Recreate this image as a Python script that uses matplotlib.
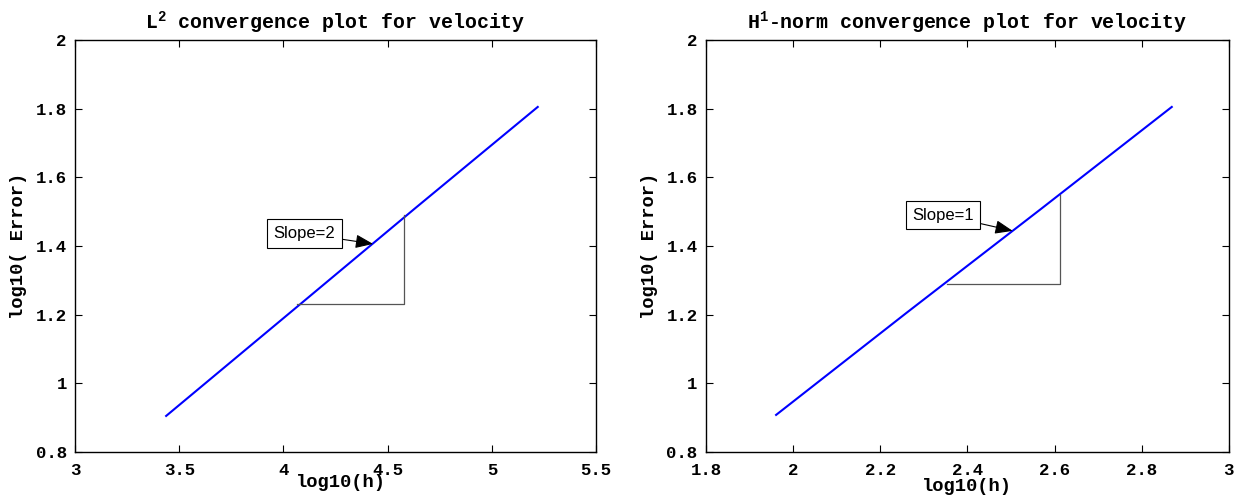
import matplotlib
matplotlib.use("Agg")
import matplotlib.pyplot as plt

# data
x_l2 = [3.437, 4.03, 4.63, 5.22]
y_l2 = [0.905, 1.205, 1.509, 1.805]
x_h1 = [1.961, 2.26, 2.57, 2.869]
y_h1 = [0.908, 1.205, 1.509, 1.805]

tri_l2_x = [4.065, 4.579, 4.579]
tri_l2_y = [1.231, 1.231, 1.490]
tri_h1_x = [2.353, 2.612, 2.612]
tri_h1_y = [1.289, 1.289, 1.549]

yticks = [0.8, 1, 1.2, 1.4, 1.6, 1.8, 2]
ytick_labels = ['0.8', '1', '1.2', '1.4', '1.6', '1.8', '2']
xticks_l2 = [3, 3.5, 4, 4.5, 5, 5.5]
xtick_labels_l2 = ['3', '3.5', '4', '4.5', '5', '5.5']
xticks_h1 = [1.8, 2, 2.2, 2.4, 2.6, 2.8, 3]
xtick_labels_h1 = ['1.8', '2', '2.2', '2.4', '2.6', '2.8', '3']

plt.rcParams['font.family'] = ['Liberation Mono', 'DejaVu Sans']
plt.rcParams['font.weight'] = 'bold'
plt.rcParams['mathtext.default'] = 'regular'

fig = plt.figure(figsize=(12.51, 4.98), dpi=100)
ax1 = fig.add_axes([0.06, 0.0924, 0.4165, 0.8273])
ax2 = fig.add_axes([0.5643, 0.0924, 0.418, 0.8273])


def style(ax, xticks, xlabels, xlim, ylab_x):
    ax.set_xlim(xlim)
    ax.set_ylim(0.8, 2)
    ax.set_xticks(xticks)
    ax.set_xticklabels(xlabels, fontsize=12.5, fontweight='bold')
    ax.set_yticks(yticks)
    ax.set_yticklabels(ytick_labels, fontsize=12.5, fontweight='bold')
    ax.tick_params(direction='in', length=5, width=0.8, top=True, right=True)
    ax.tick_params(axis='y', pad=6)
    ax.tick_params(axis='x', pad=8)
    for s in ax.spines.values():
        s.set_linewidth(1.0)
    ax.set_ylabel('log10( Error)', fontsize=13.5, fontweight='bold')
    ax.yaxis.set_label_coords(ylab_x, 0.5)


style(ax1, xticks_l2, xtick_labels_l2, (3, 5.5), -0.093)
style(ax2, xticks_h1, xtick_labels_h1, (1.8, 3), -0.092)

ax1.plot(x_l2, y_l2, color='#0000ff', lw=1.5)
ax1.plot(tri_l2_x, tri_l2_y, color='#555555', lw=0.9)
ax1.set_title(r'$L^2$ convergence plot for velocity', fontsize=14.3, fontweight='bold', pad=8)
ax1.set_xlabel('log10(h)', fontsize=13.5, fontweight='bold')
ax1.xaxis.set_label_coords(0.51, -0.053)
ax1.annotate('Slope=2', xy=(4.43, 1.406), xytext=(4.101, 1.436),
             fontsize=12, fontweight='normal', family='Liberation Sans',
             ha='center', va='center',
             bbox=dict(boxstyle='square,pad=0.4', fc='white', ec='black', lw=0.8),
             arrowprops=dict(arrowstyle='-|>,head_length=0.9,head_width=0.35',
                             color='black', lw=0.8, shrinkA=0, shrinkB=0))

ax2.plot(x_h1, y_h1, color='#0000ff', lw=1.5)
ax2.plot(tri_h1_x, tri_h1_y, color='#555555', lw=0.9)
ax2.set_title(r'$H^1$-norm convergence plot for velocity', fontsize=14.3, fontweight='bold', pad=8)
ax2.set_xlabel('log10(h)', fontsize=13.5, fontweight='bold')
ax2.xaxis.set_label_coords(0.5, -0.063)
ax2.annotate('Slope=1', xy=(2.504, 1.444), xytext=(2.344, 1.490),
             fontsize=12, fontweight='normal', family='Liberation Sans',
             ha='center', va='center',
             bbox=dict(boxstyle='square,pad=0.4', fc='white', ec='black', lw=0.8),
             arrowprops=dict(arrowstyle='-|>,head_length=0.9,head_width=0.35',
                             color='black', lw=0.8, shrinkA=0, shrinkB=0))

fig.savefig('out.png', dpi=100)
